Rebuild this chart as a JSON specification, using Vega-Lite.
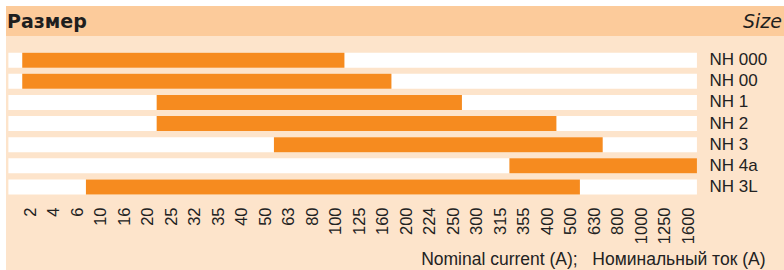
{
  "$schema": "https://vega.github.io/schema/vega-lite/v6.json",
  "background": "#ffffff",
  "padding": {"top": 6, "left": 6, "right": 0, "bottom": 0},
  "spacing": 0,
  "config": {
    "view": {"stroke": null},
    "axis": {"grid": false, "domain": false, "ticks": false, "tickSize": 0},
    "font": "Liberation Sans"
  },
  "resolve": {"scale": {"x": "independent", "y": "independent"}},
  "vconcat": [
    {
      "width": 778,
      "height": 30,
      "view": {"fill": "#FCCB9B", "stroke": null},
      "data": {"values": [{"left": "Размер", "right": "Size"}]},
      "layer": [
        {
          "mark": {"type": "text", "align": "left", "baseline": "middle", "font": "DejaVu Sans", "fontWeight": "bold", "fontSize": 19, "color": "#1e1e1e", "dx": 1, "dy": 1},
          "encoding": {
            "x": {"datum": 0, "type": "quantitative", "scale": {"domain": [0, 1], "nice": false, "zero": false}, "axis": null},
            "text": {"field": "left"}
          }
        },
        {
          "mark": {"type": "text", "align": "right", "baseline": "middle", "font": "DejaVu Sans", "fontStyle": "italic", "fontSize": 19, "color": "#1e1e1e", "dx": -2, "dy": 1},
          "encoding": {
            "x": {"datum": 1, "type": "quantitative", "scale": {"domain": [0, 1], "nice": false, "zero": false}, "axis": null},
            "text": {"field": "right"}
          }
        }
      ]
    },
    {
      "width": 778,
      "height": 167,
      "view": {"fill": "#FDE4CB", "stroke": null},
      "data": {
        "values": [
          {"size": "NH 000", "from": "2", "to": "100", "start": -0.33, "end": 13.38},
          {"size": "NH 00", "from": "2", "to": "160", "start": -0.33, "end": 15.38},
          {"size": "NH 1", "from": "25", "to": "250", "start": 5.39, "end": 18.38},
          {"size": "NH 2", "from": "25", "to": "400", "start": 5.39, "end": 22.4},
          {"size": "NH 3", "from": "63", "to": "630", "start": 10.38, "end": 24.37},
          {"size": "NH 4a", "from": "355", "to": "1600", "start": 20.4, "end": 28.38},
          {"size": "NH 3L", "from": "10", "to": "500", "start": 2.38, "end": 23.4}
        ]
      },
      "encoding": {
        "y": {
          "field": "size",
          "type": "nominal",
          "sort": null,
          "scale": {"paddingInner": 0.289, "paddingOuter": 0.6, "align": 0.66},
          "axis": {
            "orient": "right",
            "offset": -82,
            "labelPadding": 7,
            "title": null,
            "labelFont": "Liberation Sans",
            "labelFontSize": 17,
            "labelColor": "#222222"
          }
        }
      },
      "layer": [
        {
          "mark": {"type": "bar", "color": "#ffffff"},
          "encoding": {
            "x": {"datum": -0.92, "type": "quantitative", "axis": null},
            "x2": {"datum": 28.38}
          }
        },
        {
          "mark": {"type": "bar", "color": "#F68B1F"},
          "encoding": {
            "x": {
              "field": "start",
              "type": "quantitative",
              "scale": {"domain": [-1.0213, 32.085], "nice": false, "zero": false},
              "axis": null
            },
            "x2": {"field": "end"}
          }
        }
      ]
    },
    {
      "width": 778,
      "height": 67,
      "view": {"fill": "#FDE4CB", "stroke": null},
      "data": {
        "values": [
          {"size": "NH 000", "start": -0.33},
          {"size": "NH 4a", "start": 28.38}
        ]
      },
      "mark": {"type": "rule", "opacity": 0},
      "encoding": {
        "x": {
          "field": "start",
          "type": "quantitative",
          "scale": {"domain": [-1.0213, 32.085], "nice": false, "zero": false},
          "axis": {
            "orient": "bottom",
            "offset": -67,
            "values": [0,1,2,3,4,5,6,7,8,9,10,11,12,13,14,15,16,17,18,19,20,21,22,23,24,25,26,27,28],
            "labelExpr": "['2','4','6','10','16','20','25','32','35','40','50','63','80','100','125','160','200','224','250','300','315','355','400','500','630','800','1000','1250','1600'][datum.value]",
            "labelAngle": -90,
            "labelPadding": 4,
            "labelOverlap": false,
            "labelFlush": false,
            "labelBound": false,
            "labelFont": "Liberation Sans",
            "labelFontSize": 16.5,
            "labelColor": "#222222",
            "title": "Nominal current (A);\u00a0\u00a0\u00a0Номинальный ток (A)",
            "titleFont": "Liberation Sans",
            "titleFontSize": 17.5,
            "titleFontWeight": "normal",
            "titleColor": "#222222",
            "titleX": 759,
            "titleAlign": "right",
            "titlePadding": 7
          }
        }
      }
    }
  ]
}
